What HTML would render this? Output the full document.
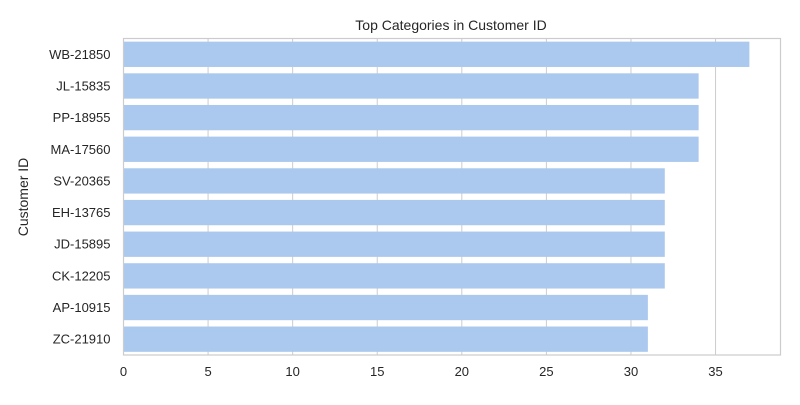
<!DOCTYPE html>
<html><head><meta charset="utf-8"><style>
body{margin:0;background:#fff;font-family:"Liberation Sans",sans-serif;}
</style></head><body>
<svg id="chart" width="800" height="400" xmlns="http://www.w3.org/2000/svg">
<text x="451" y="30" text-anchor="middle" font-size="14" fill="#262626">Top Categories in Customer ID</text>
<text transform="translate(28,197) rotate(-90)" text-anchor="middle" font-size="14" fill="#262626">Customer ID</text>
<g id="grid"></g><g id="bars"></g><g id="labels"></g>
<rect x="123.5" y="38.5" width="657" height="316.5" fill="none" stroke="#cccccc" stroke-width="1.2"/>
</svg>
<script>
const categories=["WB-21850","JL-15835","PP-18955","MA-17560","SV-20365","EH-13765","JD-15895","CK-12205","AP-10915","ZC-21910"];
const values=[37,34,34,34,32,32,32,32,31,31];
const xTicks=[0,5,10,15,20,25,30,35];
const L=123.5,R=780.5,T=38.5,B=355,xmax=38.84;
const x=v=>L+v/xmax*(R-L);
const band=(B-T)/categories.length;
const y=i=>T+i*band;
const NS="http://www.w3.org/2000/svg";
function mk(t,a,p){const e=document.createElementNS(NS,t);for(const k in a)e.setAttribute(k,a[k]);p.appendChild(e);return e;}
const grid=document.getElementById('grid'),bars=document.getElementById('bars'),labels=document.getElementById('labels');
xTicks.forEach(t=>{
 const g=mk('line',{x1:x(t),x2:x(t),y1:T,y2:B,stroke:'#cccccc','stroke-width':1},grid);
 
 
 const l=mk('text',{x:x(t),y:B+21,'text-anchor':'middle','font-size':13,fill:'#262626'},labels);
 l.textContent=t;
 
 
});
categories.forEach((c,i)=>{
 const r=mk('rect',{x:x(0),y:y(i)+band*0.1,width:x(values[i])-x(0),height:band*0.8,fill:'#abc9ee'},bars);
 
 
 const l=mk('text',{x:L-13,y:y(i)+band/2+4.5,'text-anchor':'end','font-size':13,fill:'#262626'},labels);
 l.textContent=c;
 
 
});
</script>
</body></html>
